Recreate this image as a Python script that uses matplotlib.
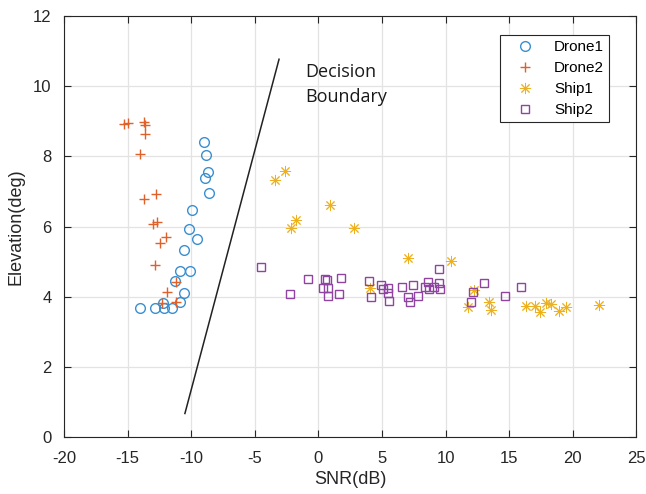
import matplotlib.pyplot as plt
import numpy as np

plt.rcParams['font.family'] = ['Liberation Sans', 'DejaVu Sans']
plt.rcParams['axes.unicode_minus'] = False

# values
drone1_snr = [-8.97, -8.86, -8.66, -8.89, -8.63, -9.96, -10.20, -9.52, -10.56, -10.88,
              -10.12, -11.27, -10.54, -10.85, -13.99, -12.82, -12.21, -12.13, -11.51]
drone1_elev = [8.41, 8.04, 7.56, 7.39, 6.96, 6.47, 5.93, 5.64, 5.34, 4.73,
               4.74, 4.44, 4.11, 3.85, 3.67, 3.68, 3.81, 3.67, 3.67]

drone2_snr = [-15.27, -14.98, -13.68, -13.62, -13.62, -14.02, -13.68, -12.76, -13.02, -12.66,
              -11.95, -12.45, -12.84, -11.19, -11.92, -12.31, -11.19]
drone2_elev = [8.92, 8.95, 8.98, 8.89, 8.63, 8.08, 6.78, 6.92, 6.07, 6.12,
               5.69, 5.53, 4.90, 4.42, 4.12, 3.83, 3.84]

ship1_snr = [-3.37, -2.62, 0.94, -1.73, -2.17, 2.77, 4.10, 7.08, 10.45, 12.26, 11.73,
             13.44, 13.60, 16.36, 17.00, 17.40, 17.90, 18.27, 18.90, 19.45, 22.06]
ship1_elev = [7.34, 7.59, 6.61, 6.18, 5.95, 5.97, 4.25, 5.09, 5.01, 4.20, 3.70,
              3.85, 3.63, 3.73, 3.73, 3.57, 3.82, 3.78, 3.58, 3.71, 3.77]

ship2_snr = [-4.47, -2.20, -0.82, 0.55, 0.70, 0.33, 0.76, 0.76, 1.75, 1.65, 3.95, 4.15,
             4.94, 5.07, 5.46, 5.46, 5.54, 6.60, 7.03, 7.42, 7.22, 7.81, 8.42, 8.60,
             8.73, 9.12, 9.51, 9.57, 9.51, 12.00, 12.18, 12.99, 14.69, 15.92]
ship2_elev = [4.85, 4.08, 4.50, 4.50, 4.48, 4.25, 4.24, 4.02, 4.52, 4.07, 4.45, 4.00,
              4.32, 4.21, 4.25, 4.11, 3.88, 4.27, 4.00, 4.33, 3.84, 4.02, 4.28, 4.42,
              4.21, 4.28, 4.38, 4.21, 4.80, 3.85, 4.13, 4.38, 4.02, 4.28]

boundary_snr = [-10.49, -3.09]
boundary_elev = [0.67, 10.77]

fig = plt.figure(figsize=(6.46, 4.94), dpi=100)
ax = fig.add_axes([0.099, 0.1154, 0.886, 0.852])

ax.plot(drone1_snr, drone1_elev, 'o', ms=7.0, mfc='none', mec='#3a8fd0', mew=1.0, label='Drone1')
ax.plot(drone2_snr, drone2_elev, '+', ms=7.5, mec='#e0602a', mew=1.0, label='Drone2')
ax.plot(ship1_snr, ship1_elev, marker=(8, 2, 0), ls='none', ms=8, mec='#edb120',
        mew=0.7, label='Ship1')
ax.plot(ship2_snr, ship2_elev, 's', ms=5.6, mfc='none', mec='#8e44a0', mew=1.0, label='Ship2')

ax.plot(boundary_snr, boundary_elev, color='#222222', lw=1.1)
ax.text(-1.0, 10.65, 'Decision\nBoundary', fontsize=13, family=['Open Sans', 'DejaVu Sans'],
        color='#1a1a1a', va='top', ha='left', linespacing=1.5)

ax.set_xlim(-20, 25)
ax.set_ylim(0, 12)
ax.set_xticks(np.arange(-20, 26, 5))
ax.set_yticks(np.arange(0, 13, 2))
ax.grid(True, color='#e3e3e3', lw=0.9)
ax.set_axisbelow(True)
ax.tick_params(direction='in', top=True, right=True, length=5, labelsize=12,
               colors='#262626', width=0.8)
ax.tick_params(axis='x', pad=10)
ax.tick_params(axis='y', pad=9)
for s in ax.spines.values():
    s.set_color('#262626')
    s.set_linewidth(0.8)

ax.set_xlabel('SNR(dB)', fontsize=13, color='#262626', labelpad=4)
ax.set_ylabel('Elevation(deg)', fontsize=13, color='#262626', labelpad=6)

leg = ax.legend(loc='upper right', bbox_to_anchor=(0.953, 0.955), fontsize=11,
                fancybox=False, framealpha=1, edgecolor='#262626', borderpad=0.35,
                labelspacing=0.45, handlelength=2.6, handletextpad=0.6, borderaxespad=0)
leg.get_frame().set_linewidth(0.8)

fig.savefig('out.png', dpi=100)
